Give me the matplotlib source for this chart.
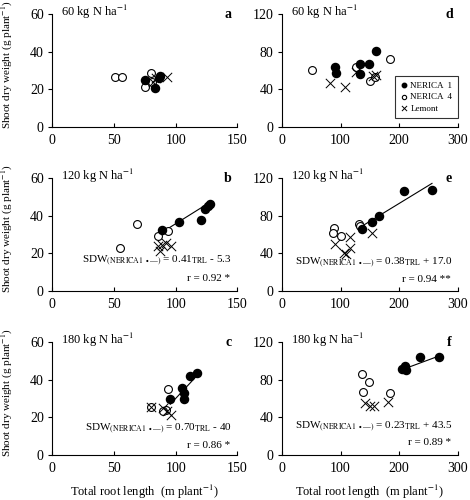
import matplotlib
matplotlib.use("Agg")
import matplotlib.pyplot as plt

plt.rcParams["font.family"] = ["Liberation Serif", "DejaVu Serif"]
plt.rcParams["mathtext.fontset"] = "stix"

# --- data: (x = total root length, y = shoot dry weight) ---
# left column, x 0-150, y 0-60
a_n1_x = [75.5, 82.9, 86.4, 87.2]
a_n1_y = [24.9, 20.5, 25.8, 27.2]
a_n4_x = [50.5, 56.8, 80.2, 75.5, 81.0]
a_n4_y = [26.3, 26.3, 28.5, 21.5, 24.0]
a_le_x = [93.0, 82.0, 84.0]
a_le_y = [26.7, 24.0, 26.0]

b_n1_x = [88.9, 103.0, 120.8, 123.6, 125.9, 127.9]
b_n1_y = [32.3, 36.7, 37.5, 43.7, 45.2, 46.1]
b_n4_x = [54.7, 68.4, 85.5, 94.0]
b_n4_y = [22.8, 35.8, 29.4, 31.7]
b_le_x = [86.0, 88.9, 96.0, 87.5, 92.0]
b_le_y = [23.7, 24.6, 23.7, 21.0, 25.5]

c_n1_x = [95.7, 105.5, 107.0, 107.0, 112.0, 117.5]
c_n1_y = [29.5, 35.5, 33.0, 29.5, 42.0, 43.5]
c_n4_x = [94.0, 80.0, 92.0, 90.0]
c_n4_y = [34.8, 25.5, 24.0, 23.5]
c_le_x = [80.0, 89.5, 96.0, 93.0]
c_le_y = [25.5, 25.0, 21.5, 23.5]

# right column, x 0-300, y 0-120
d_n1_x = [90.3, 92.0, 132.9, 148.0, 132.9, 161.0]
d_n1_y = [64.0, 57.0, 66.6, 66.6, 56.0, 80.8]
d_n4_x = [50.6, 184.0, 127.0, 150.0, 159.0]
d_n4_y = [60.5, 72.3, 64.0, 48.8, 53.4]
d_le_x = [81.8, 107.0, 127.0, 155.0, 160.0]
d_le_y = [46.3, 42.0, 58.7, 54.4, 55.0]

e_n1_x = [137.0, 154.0, 165.0, 208.0, 256.0]
e_n1_y = [66.0, 73.3, 80.0, 106.0, 107.5]
e_n4_x = [88.6, 87.4, 100.0, 131.0, 133.0]
e_n4_y = [67.2, 61.6, 58.8, 71.0, 68.6]
e_le_x = [91.0, 116.0, 106.0, 116.0, 154.0, 110.0]
e_le_y = [50.0, 57.0, 40.0, 46.0, 61.5, 39.0]

f_n1_x = [205.0, 210.6, 212.0, 236.0, 268.0]
f_n1_y = [91.0, 94.5, 90.0, 103.6, 103.6]
f_n4_x = [136.6, 149.0, 139.0, 183.8]
f_n4_y = [85.5, 77.0, 67.0, 65.5]
f_le_x = [142.0, 150.8, 156.5, 180.6]
f_le_y = [55.6, 52.0, 52.0, 56.4]

# regression of NERICA 1 (slope, intercept)
b_fit = (0.41, -5.3)
c_fit = (0.70, -40.0)
e_fit = (0.38, 17.0)
f_fit = (0.23, 43.5)

panels = [
    ("a", "60", (a_n1_x, a_n1_y), (a_n4_x, a_n4_y), (a_le_x, a_le_y), None, None, None),
    ("b", "120", (b_n1_x, b_n1_y), (b_n4_x, b_n4_y), (b_le_x, b_le_y), b_fit,
     r"0.41$_{\mathrm{TRL}}$ - 5.3", "r = 0.92 *"),
    ("c", "180", (c_n1_x, c_n1_y), (c_n4_x, c_n4_y), (c_le_x, c_le_y), c_fit,
     r"0.70$_{\mathrm{TRL}}$ - 40", "r = 0.86 *"),
    ("d", "60", (d_n1_x, d_n1_y), (d_n4_x, d_n4_y), (d_le_x, d_le_y), None, None, None),
    ("e", "120", (e_n1_x, e_n1_y), (e_n4_x, e_n4_y), (e_le_x, e_le_y), e_fit,
     r"0.38$_{\mathrm{TRL}}$ + 17.0", "r = 0.94 **"),
    ("f", "180", (f_n1_x, f_n1_y), (f_n4_x, f_n4_y), (f_le_x, f_le_y), f_fit,
     r"0.23$_{\mathrm{TRL}}$ + 43.5", "r = 0.89 *"),
]

fig = plt.figure(figsize=(4.7, 5.0), dpi=100)

col_left = [0.111, 0.600]
col_width = [0.394, 0.374]
row_bottom = [0.746, 0.418, 0.090]
row_height = 0.226

eq_y = {"b": 0.27, "c": 0.23, "e": 0.25, "f": 0.245}
r_y = {"b": 0.11, "c": 0.08, "e": 0.105, "f": 0.11}

for i, (letter, dose, n1, n4, le, fit, eq, rtxt) in enumerate(panels):
    col, row = divmod(i, 3)
    ax = fig.add_axes([col_left[col], row_bottom[row], col_width[col], row_height])
    if col == 0:
        ax.set_xlim(0, 150)
        ax.set_ylim(0, 60)
        ax.set_xticks([0, 50, 100, 150])
        ax.set_yticks([0, 20, 40, 60])
    else:
        ax.set_xlim(0, 300)
        ax.set_ylim(0, 120)
        ax.set_xticks([0, 100, 200, 300])
        ax.set_yticks([0, 40, 80, 120])

    for side in ("top", "right"):
        ax.spines[side].set_visible(False)
    for side in ("left", "bottom"):
        ax.spines[side].set_linewidth(0.8)
    ax.tick_params(axis="y", direction="out", length=3, width=0.8, labelsize=10, pad=3)
    ax.tick_params(axis="x", direction="in", length=3, width=0.8, labelsize=10, pad=5)

    if fit is not None:
        x0, x1 = min(n1[0]), max(n1[0])
        ax.plot([x0, x1], [fit[0] * x0 + fit[1], fit[0] * x1 + fit[1]],
                color="black", lw=0.8, zorder=2)

    ax.scatter(n4[0], n4[1], s=32, facecolor="white", edgecolor="black",
               linewidths=0.8, zorder=3, label="NERICA  4")
    ax.scatter(le[0], le[1], s=45, marker="x", color="black",
               linewidths=0.7, zorder=4, label="Lemont")
    ax.scatter(n1[0], n1[1], s=34, facecolor="black", edgecolor="black",
               zorder=5, label="NERICA  1")

    ax.text(0.05, 1.02, dose + r" kg N ha$^{-1}$", transform=ax.transAxes,
            fontsize=9, ha="left", va="center")
    ax.text(0.95, 1.0, letter, transform=ax.transAxes, fontsize=10,
            fontweight="bold", ha="center", va="center")

    if eq is not None:
        ax.text(0.97, eq_y[letter],
                r"SDW$_{\mathrm{(NERICA1\ \bullet—)}}$ = " + eq,
                transform=ax.transAxes, fontsize=8, ha="right", va="center")
        ax.text(0.96, r_y[letter], rtxt, transform=ax.transAxes,
                fontsize=8, ha="right", va="center")

    if col == 0:
        ax.set_ylabel(r"Shoot dry weight (g plant$^{-1}$)", fontsize=8)
        ax.yaxis.set_label_coords(-0.2, 0.55)
    if row == 2:
        ax.set_xlabel(r"Total root length  (m plant$^{-1}$)", fontsize=9, labelpad=6)

    if letter == "d":
        h, l = ax.get_legend_handles_labels()
        order = [2, 0, 1]
        leg = ax.legend([h[k] for k in order], [l[k] for k in order],
                        loc="lower right", bbox_to_anchor=(1.0, 0.08),
                        fontsize=6.5, markerscale=0.55, frameon=True,
                        fancybox=False, handlelength=0.8, handletextpad=0.3,
                        borderpad=0.6, labelspacing=0.35, borderaxespad=0)
        leg.get_frame().set_edgecolor("black")
        leg.get_frame().set_linewidth(0.8)

fig.savefig("out.png", dpi=100)
